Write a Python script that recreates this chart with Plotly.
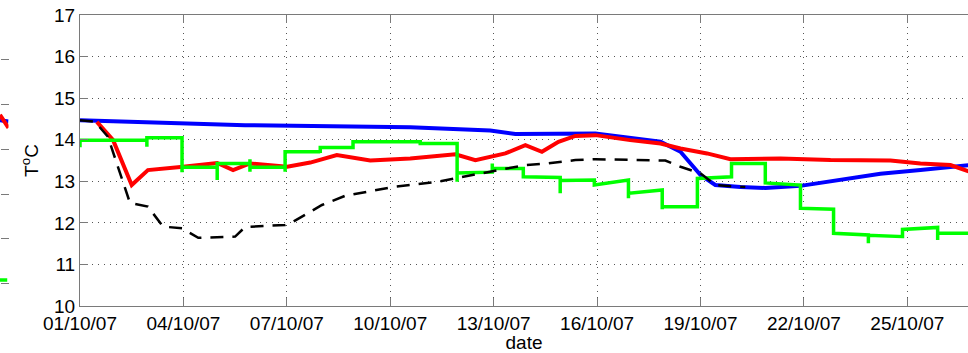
import pandas as pd
import plotly.graph_objects as go

BASE = pd.Timestamp("2007-10-01")

# days since 01/10/07 and temperatures (deg C)
blue_days = [0, 4.79, 9.58, 11.90, 12.63, 14.95, 16.84, 17.42, 18.00, 18.43, 19.16, 19.88,
             20.90, 21.77, 23.22, 24.38, 25.40, 25.80]
blue_temp = [14.47, 14.35, 14.30, 14.22, 14.14, 14.15, 13.95, 13.71, 13.15, 12.91, 12.86, 12.84,
             12.89, 12.99, 13.18, 13.27, 13.37, 13.39]

red_days = [0.49, 0.96, 1.50, 1.97, 2.99, 3.98, 4.44, 4.93, 6.01, 6.68, 7.45, 8.42, 9.58, 10.89,
            11.47, 12.34, 12.92, 13.40, 13.88, 14.37, 14.95, 15.96, 16.84, 17.42, 18.19, 18.87,
            20.32, 21.77, 23.51, 24.38, 25.25, 25.80]
red_temp = [14.43, 13.99, 12.91, 13.27, 13.35, 13.44, 13.27, 13.43, 13.35, 13.45, 13.63, 13.50,
            13.55, 13.65, 13.51, 13.67, 13.87, 13.71, 13.95, 14.09, 14.11, 13.99, 13.91, 13.79,
            13.67, 13.53, 13.55, 13.51, 13.50, 13.43, 13.39, 13.23]

green_days = [0, 0, 1.94, 1.94, 1.94, 2.96, 2.96, 2.96, 3.98, 3.98, 3.98, 4.93, 4.93, 4.93, 4.93,
              5.95, 5.95, 5.95, 6.97, 6.97, 6.97, 7.92, 7.92, 9.87, 9.87, 10.94, 10.94, 10.94,
              11.96, 11.96, 11.96, 12.86, 12.86, 13.93, 13.93, 13.93, 14.92, 14.92, 15.91, 15.91,
              15.91, 16.89, 16.89, 16.89, 17.91, 17.91, 18.90, 18.90, 19.88, 19.88, 20.90, 20.90,
              20.90, 21.86, 21.86, 22.87, 22.87, 22.87, 23.86, 23.86, 23.86, 24.88, 24.88, 24.88,
              25.80]
green_temp = [13.82, 13.99, 13.99, 13.83, 14.05, 14.05, 13.22, 13.34, 13.34, 13.03, 13.43, 13.43,
              13.53, 13.23, 13.34, 13.34, 13.23, 13.71, 13.71, 13.68, 13.81, 13.81, 13.95, 13.95,
              13.91, 13.91, 12.99, 13.20, 13.22, 13.43, 13.31, 13.31, 13.11, 13.09, 12.71, 13.02,
              13.03, 12.91, 13.03, 12.59, 12.71, 12.79, 12.33, 12.39, 12.39, 13.07, 13.11, 13.43,
              13.43, 12.96, 12.91, 12.31, 12.35, 12.33, 11.75, 11.71, 11.51, 11.70, 11.67, 11.63,
              11.84, 11.89, 11.59, 11.75, 11.75]

black_days = [0, 0.44, 0.81, 1.31, 1.45, 1.97, 2.41, 2.96, 3.43, 4.50, 4.79, 5.95, 6.10, 7.02,
              7.69, 9.06, 9.58, 10.39, 11.38, 12.34, 12.92, 13.58, 14.37, 14.95, 16.26, 16.98,
              17.42, 18.00, 18.43, 19.16, 19.30]
black_temp = [14.47, 14.43, 14.07, 12.87, 12.48, 12.39, 11.91, 11.87, 11.64, 11.67, 11.90, 11.95,
              11.99, 12.43, 12.65, 12.86, 12.91, 12.99, 13.15, 13.29, 13.39, 13.43, 13.51, 13.53,
              13.50, 13.50, 13.35, 13.19, 12.91, 12.86, 12.86]

# neighbouring (cropped) panel at the left edge
left_x = [0, 1]
left_blue = [4.15, 4.12]
left_red = [4.27, 3.98]
left_green = [0.58, 0.58]

y_ticks = [10, 11, 12, 13, 14, 15, 16, 17]
x_end_days = 25.76


def to_dates(days):
    return BASE + pd.to_timedelta(days, unit="D")


fig = go.Figure()
fig.add_trace(go.Scatter(x=to_dates(blue_days), y=blue_temp, mode="lines",
                         line=dict(color="#0000ff", width=4), xaxis="x", yaxis="y"))
fig.add_trace(go.Scatter(x=to_dates(red_days), y=red_temp, mode="lines",
                         line=dict(color="#ff0000", width=4), xaxis="x", yaxis="y"))
fig.add_trace(go.Scatter(x=to_dates(green_days), y=green_temp, mode="lines",
                         line=dict(color="#00ff00", width=3.5), xaxis="x", yaxis="y"))
fig.add_trace(go.Scatter(x=to_dates(black_days), y=black_temp, mode="lines",
                         line=dict(color="#000000", width=2.5, dash="13px,9px"),
                         xaxis="x", yaxis="y"))

fig.add_trace(go.Scatter(x=left_x, y=left_blue, mode="lines",
                         line=dict(color="#0000ff", width=4), xaxis="x2", yaxis="y2"))
fig.add_trace(go.Scatter(x=left_x, y=left_red, mode="lines",
                         line=dict(color="#ff0000", width=4), xaxis="x2", yaxis="y2"))
fig.add_trace(go.Scatter(x=[0, 0.85], y=left_green, mode="lines",
                         line=dict(color="#00ff00", width=3.5), xaxis="x2", yaxis="y2"))

font = "Liberation Sans, Arial, sans-serif"
axis_col = "#7a7a7a"

fig.update_layout(
    width=968, height=353,
    margin=dict(l=0, r=0, t=15, b=47, autoexpand=False),
    paper_bgcolor="white", plot_bgcolor="white",
    showlegend=False,
    font=dict(family=font, size=19, color="black"),
    xaxis=dict(
        domain=[80 / 968, 1.0],
        type="date",
        range=[BASE, BASE + pd.Timedelta(days=x_end_days)],
        tick0=BASE, dtick=3 * 86400000, tickformat="%d/%m/%y",
        ticks="inside", ticklen=8, tickcolor=axis_col,
        showline=True, linecolor=axis_col, linewidth=1, mirror="ticks",
        showgrid=True, gridcolor="#555555", gridwidth=1, griddash="1px,5px",
        zeroline=False, automargin=False,
        tickfont=dict(size=19),
        title=dict(text="date", standoff=5, font=dict(size=19)),
    ),
    yaxis=dict(
        domain=[0, 1],
        anchor="x",
        range=[10, 17],
        tickvals=y_ticks, ticktext=[str(v) for v in y_ticks],
        ticks="inside", ticklen=8, tickcolor=axis_col,
        showline=True, linecolor=axis_col, linewidth=1,
        showgrid=True, gridcolor="#555555", gridwidth=1, griddash="1px,5px",
        zeroline=False, automargin=False,
        tickfont=dict(size=19),
        title=dict(text="T<sup>o</sup>C", standoff=10, font=dict(size=19)),
    ),
    xaxis2=dict(
        domain=[0, 8.5 / 968],
        range=[0, 1],
        anchor="y2",
        showline=False, showgrid=False, zeroline=False, automargin=False,
        showticklabels=False, ticks="",
    ),
    yaxis2=dict(
        domain=[0, 1],
        anchor="x2",
        side="right",
        range=[0, 6.5],
        tickvals=[0, 0.5, 1.5, 2.5, 3.5, 4.5, 5.5, 6.5],
        ticks="inside", ticklen=8, tickcolor=axis_col, automargin=False,
        showticklabels=False, showline=False, showgrid=False, zeroline=False,
    ),
)

fig.write_html(
    "out.html",
    config={"displayModeBar": False},
    post_script="document.body.style.margin='0px';document.body.style.overflow='hidden';",
)
